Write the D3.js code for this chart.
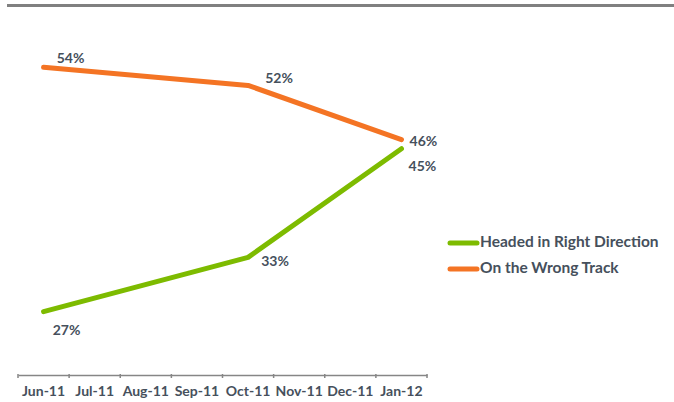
<!DOCTYPE html>
<html>
<head>
<meta charset="utf-8">
<script src="https://cdn.jsdelivr.net/npm/d3@7"></script>
<style>
  body { margin: 0; background: #fff; }
  text { font-family: Lato, "Open Sans", sans-serif; font-weight: bold; fill: #46505c; }
</style>
</head>
<body>
<script>
// categories and series
const months = ["Jun-11", "Jul-11", "Aug-11", "Sep-11", "Oct-11", "Nov-11", "Dec-11", "Jan-12"];
const rightMonths = ["Jun-11", "Oct-11", "Jan-12"];
const rightValues = [27, 33, 45];
const wrongMonths = ["Jun-11", "Oct-11", "Jan-12"];
const wrongValues = [54, 52, 46];
const seriesNames = ["Headed in Right Direction", "On the Wrong Track"];
const seriesColors = ["#7dbb00", "#f47424"];

const width = 674;
const height = 402;

const svg = d3.select('body').append('svg')
    .attr('width', width)
    .attr('height', height);

// top rule left over from the slide
svg.append('line')
    .attr('x1', 7).attr('x2', width)
    .attr('y1', 5.5).attr('y2', 5.5)
    .attr('stroke', '#808080')
    .attr('stroke-width', 3);

const x = d3.scaleBand()
    .domain(months)
    .range([18, 427]);

const y = d3.scaleLinear()
    .domain([20, 60])
    .range([375, 13]);

// bottom axis
const axis = svg.append('g')
    .attr('transform', `translate(0,375)`)
    .call(d3.axisBottom(x).tickSize(0).tickPadding(11));
axis.select('.domain').attr('stroke', '#868686').attr('stroke-width', 1.5);
axis.selectAll('text').style('font-size', '14px').attr('fill', '#46505c').attr('font-family', null);

// tick marks between categories
svg.selectAll('.tickmark')
    .data(months.concat(['end']))
    .join('line')
    .attr('class', 'tickmark')
    .attr('x1', (d, i) => 18 + i * x.step())
    .attr('x2', (d, i) => 18 + i * x.step())
    .attr('y1', 374).attr('y2', 378)
    .attr('stroke', '#868686')
    .attr('stroke-width', 1.5);

const cx = m => x(m) + x.bandwidth() / 2;

const series = [
    { months: rightMonths, values: rightValues, color: seriesColors[0] },
    { months: wrongMonths, values: wrongValues, color: seriesColors[1] },
];

const line = d3.line()
    .x(d => cx(d[0]))
    .y(d => y(d[1]));

series.forEach(s => {
    svg.append('path')
        .datum(d3.zip(s.months, s.values))
        .attr('d', line)
        .attr('fill', 'none')
        .attr('stroke', s.color)
        .attr('stroke-width', 5)
        .attr('stroke-linecap', 'round')
        .attr('stroke-linejoin', 'round');
});

// data labels (offsets follow the original placement)
const labelOffsets = [
    [[23, 20], [27, 5], [21, 19]],     // right direction
    [[27, -8], [31, -6], [22, 3]],     // wrong track
];

series.forEach((s, si) => {
    svg.selectAll(null)
        .data(d3.zip(s.months, s.values))
        .join('text')
        .attr('x', (d, i) => cx(d[0]) + labelOffsets[si][i][0])
        .attr('y', (d, i) => y(d[1]) + labelOffsets[si][i][1])
        .attr('text-anchor', 'middle')
        .attr('dominant-baseline', 'middle')
        .style('font-size', '14px')
        .text(d => d[1] + '%');
});

// legend
const legend = svg.append('g')
    .attr('transform', 'translate(448,243)');

seriesNames.forEach((name, i) => {
    const g = legend.append('g').attr('transform', `translate(0,${i * 26})`);
    g.append('line')
        .attr('x1', 2).attr('x2', 29)
        .attr('stroke', seriesColors[i])
        .attr('stroke-width', 5)
        .attr('stroke-linecap', 'round');
    g.append('text')
        .attr('x', 32)
        .attr('dominant-baseline', 'middle')
        .style('font-size', '15.5px')
        .text(name);
});
</script>
</body>
</html>
